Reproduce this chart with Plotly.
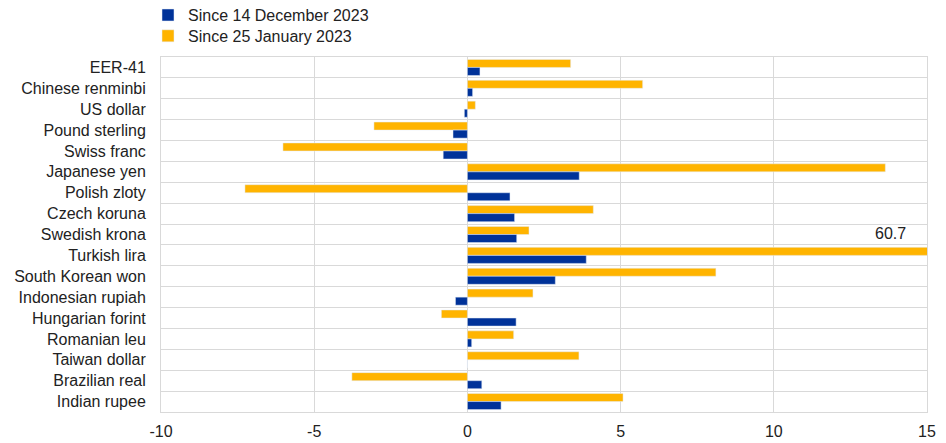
import plotly.graph_objects as go

categories = ["EER-41", "Chinese renminbi", "US dollar", "Pound sterling", "Swiss franc",
              "Japanese yen", "Polish zloty", "Czech koruna", "Swedish krona", "Turkish lira",
              "South Korean won", "Indonesian rupiah", "Hungarian forint", "Romanian leu",
              "Taiwan dollar", "Brazilian real", "Indian rupee"]
since_dec_2023 = [0.41, 0.17, -0.10, -0.47, -0.79, 3.65, 1.39, 1.54, 1.61, 3.88,
                  2.87, -0.39, 1.59, 0.14, 0.0, 0.47, 1.10]
since_jan_2023 = [3.37, 5.72, 0.26, -3.05, -6.02, 13.64, -7.26, 4.11, 2.01, 60.7,
                  8.11, 2.14, -0.85, 1.51, 3.64, -3.77, 5.08]
x_ticks = [-10, -5, 0, 5, 10, 15]
x_tick_labels = ["-10", "-5", "0", "5", "10", "15"]
overflow_label = "60.7"

BLUE = "#003299"
YELLOW = "#FFB400"
GRID = "#d9d9d9"

fig = go.Figure()
fig.add_trace(go.Bar(y=categories, x=since_jan_2023, orientation="h",
                     name="Since 25 January 2023", marker_color=YELLOW, legend="legend2"))
fig.add_trace(go.Bar(y=categories, x=since_dec_2023, orientation="h",
                     name="Since 14 December 2023", marker_color=BLUE, legend="legend"))

fig.add_annotation(x=13.8, y="Swedish krona", text=overflow_label, showarrow=False,
                   xref="x", yref="y", yshift=1, font=dict(size=16, color="#222222"))

legend_common = dict(xref="container", yref="container", x=0.148, xanchor="left",
                     yanchor="middle", font=dict(size=16), bgcolor="rgba(0,0,0,0)")

fig.update_layout(
    width=946, height=443,
    margin=dict(l=153, r=27, t=49, b=39, autoexpand=False),
    paper_bgcolor="white", plot_bgcolor="white",
    font=dict(family="Liberation Sans, Arial, sans-serif", size=16, color="#222222"),
    barmode="group", bargap=0.23, bargroupgap=0,
    showlegend=True,
    legend=dict(y=0.984, **legend_common),
    legend2=dict(y=0.937, **legend_common),
    xaxis=dict(range=[-10, 15], tickvals=x_ticks, ticktext=x_tick_labels, showgrid=True,
               gridcolor=GRID, gridwidth=1, zeroline=False, showline=True, linecolor=GRID,
               mirror=True, ticks="", tickfont=dict(size=16), automargin=False,
               ticklabelstandoff=5),
    yaxis=dict(type="category", autorange="reversed", showgrid=True, gridcolor=GRID,
               gridwidth=1, tickson="boundaries", ticks="", showline=True,
               linecolor=GRID, mirror=True, tickfont=dict(size=16), ticklabelstandoff=11,
               automargin=False),
)

fig.write_html("out.html")
